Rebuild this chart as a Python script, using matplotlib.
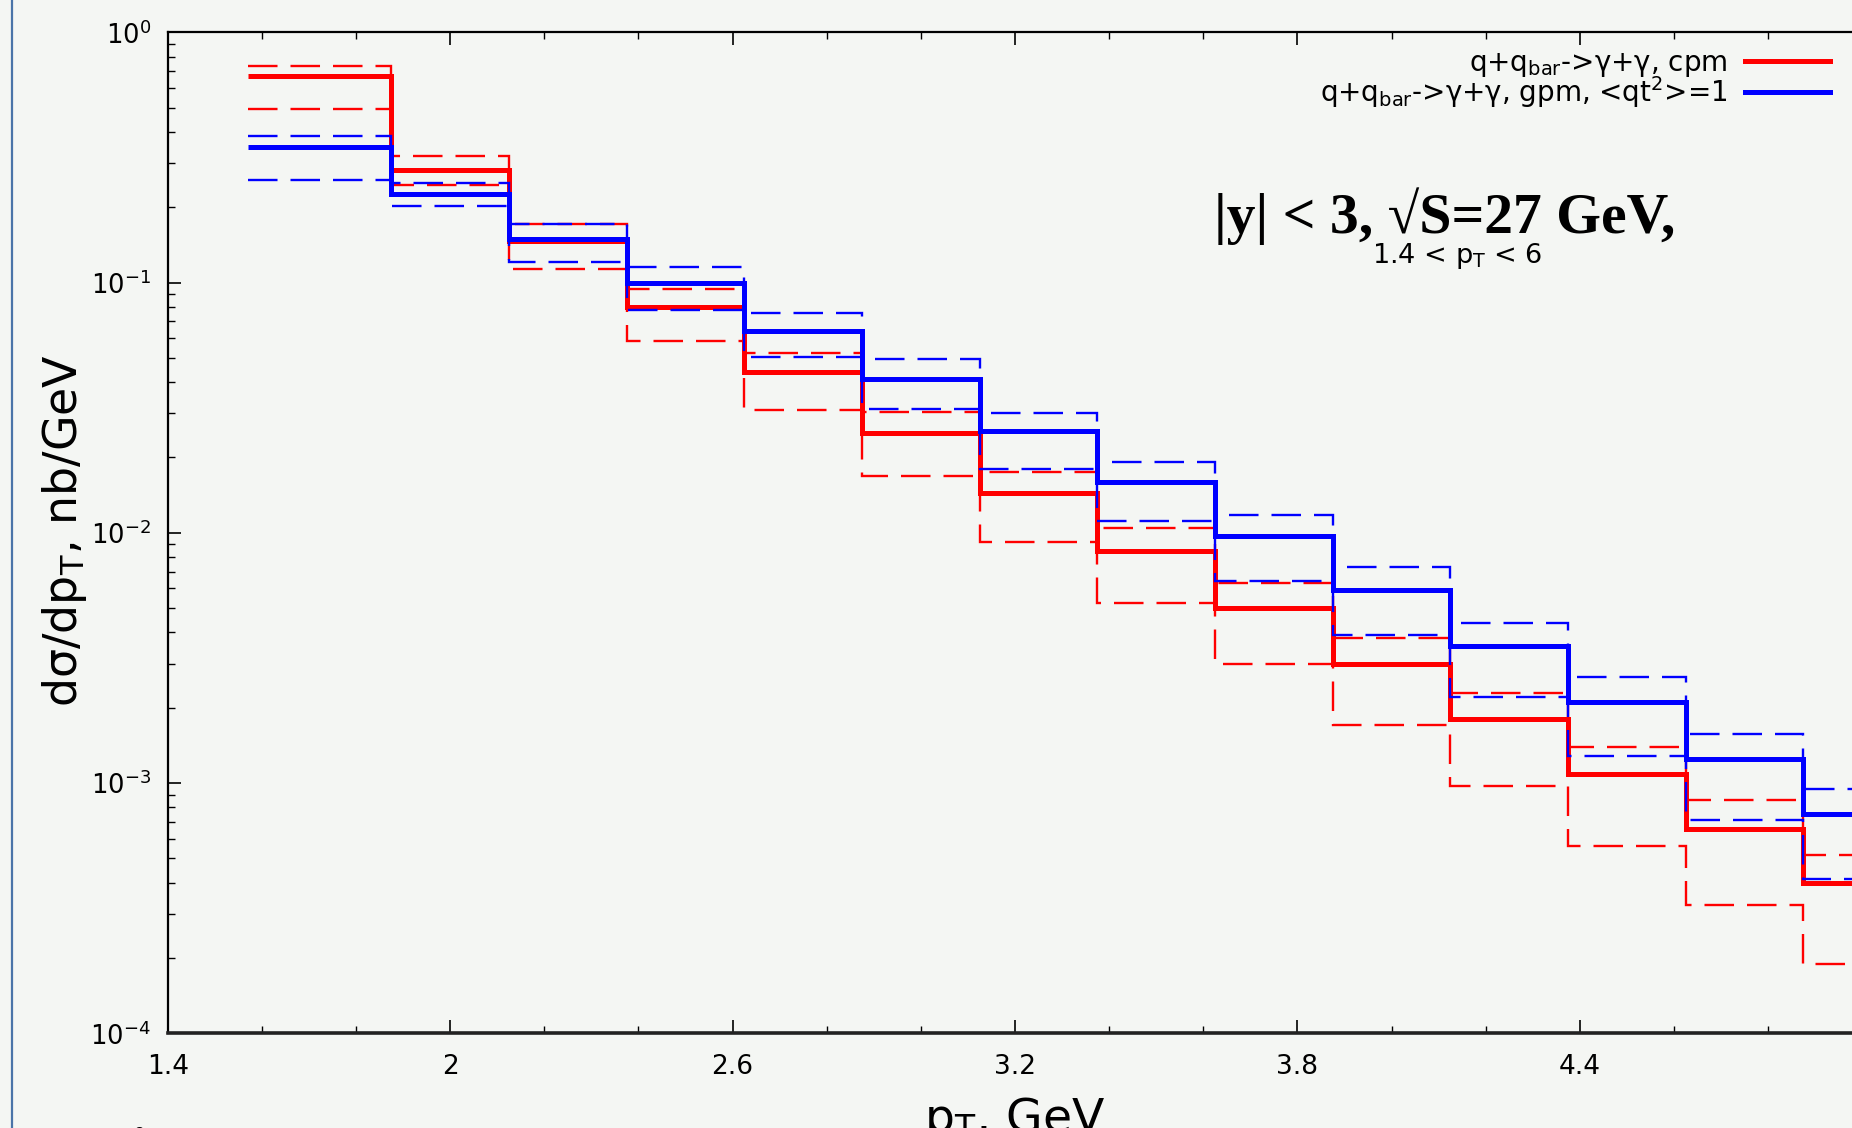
import matplotlib
matplotlib.use("Agg")
import matplotlib.pyplot as plt
from matplotlib.lines import Line2D
import numpy as np

# bin edges in pT (GeV)
edges = [1.57, 1.875, 2.125, 2.375, 2.625, 2.875, 3.125, 3.375, 3.625,
         3.875, 4.125, 4.375, 4.625, 4.875, 5.125]

# cpm (red)
cpm = [0.669, 0.2825, 0.147, 0.0796, 0.0439, 0.0250, 0.01438, 0.00844,
       0.00499, 0.00299, 0.00180, 0.001087, 0.000655, 0.000399]
cpm_up = [0.733, 0.321, 0.1714, 0.094, 0.0524, 0.0305, 0.0175, 0.01048,
          0.00628, 0.00381, 0.0023, 0.001393, 0.000853, 0.000516]
cpm_low = [0.494, 0.245, 0.1129, 0.0584, 0.031, 0.0169, 0.00916, 0.00526,
           0.00299, 0.0017, 0.000973, 0.000562, 0.000325, 0.000189]

# gpm, <qt^2>=1 (blue)
gpm = [0.349, 0.2253, 0.149, 0.0993, 0.0642, 0.0413, 0.0256, 0.0160,
       0.00974, 0.00591, 0.00354, 0.00211, 0.001251, 0.00075]
gpm_up = [0.385, 0.2506, 0.1714, 0.115, 0.0758, 0.0493, 0.0302, 0.01924,
          0.01178, 0.00732, 0.00437, 0.002645, 0.00157, 0.00095]
gpm_low = [0.257, 0.2022, 0.1212, 0.0777, 0.0503, 0.0311, 0.01793, 0.01115,
           0.00642, 0.0039, 0.00221, 0.001279, 0.000712, 0.000412]

xticks = [1.4, 2.0, 2.6, 3.2, 3.8, 4.4, 5.0]
xtick_labels = ['1.4', '2', '2.6', '3.2', '3.8', '4.4', '']
labels = [r'q+q$_{\rm bar}$->γ+γ, cpm',
          r'q+q$_{\rm bar}$->γ+γ, gpm, <qt$^2$>=1']

W, H = 1852, 1128
bg = '#f4f6f3'
plt.rcParams['font.family'] = ['DejaVu Sans']

fig = plt.figure(figsize=(W / 100, H / 100), dpi=100, facecolor=bg)
# axes run past the right edge of the picture (cropped screenshot)
left, top, bottom = 167.7 / W, 1 - 32.3 / H, 1 - 1033.3 / H
ax = fig.add_axes([left, bottom, 3.6 * 470.7 / W, top - bottom])
ax.set_facecolor(bg)

thick = 3.6
thin = 1.7
dash = (12.5, 5.5)

ax.stairs(cpm_up, edges, color='red', lw=thin, linestyle=(0, dash), baseline=None)
ax.stairs(cpm_low, edges, color='red', lw=thin, linestyle=(0, dash), baseline=None)
ax.stairs(cpm, edges, color='red', lw=thick, baseline=None)
ax.stairs(gpm_up, edges, color='blue', lw=thin, linestyle=(0, dash), baseline=None)
ax.stairs(gpm_low, edges, color='blue', lw=thin, linestyle=(0, dash), baseline=None)
ax.stairs(gpm, edges, color='blue', lw=thick, baseline=None)

ax.set_yscale('log')
ax.set_ylim(1e-4, 1)
ax.set_xlim(1.4, 5.0)

ax.set_xticks(xticks)
ax.set_xticklabels(xtick_labels)
ax.set_xticks(np.arange(1.4, 5.01, 0.2), minor=True)

ax.tick_params(which='both', direction='in', top=True, right=False, colors='black')
ax.tick_params(which='major', length=9.5, width=1.2, labelsize=19)
ax.tick_params(which='minor', length=5, width=1.0)
ax.tick_params(axis='x', pad=15)
ax.tick_params(axis='y', pad=12, labelsize=18.5)

for s in ['left', 'top']:
    ax.spines[s].set_linewidth(1.6)
ax.spines['bottom'].set_linewidth(2.6)
ax.spines['bottom'].set_color('#222222')
ax.spines['right'].set_visible(False)

# legend, gnuplot style: text right aligned, sample line after it
for i, (lab, col) in enumerate(zip(labels, ['red', 'blue'])):
    y_line = 61 + 30.7 * i
    y_text = 71 + 31 * i
    fig.text(1727 / W, 1 - y_text / H, lab, fontsize=20, ha='right', va='baseline')
    fig.add_artist(Line2D([1745 / W, 1830 / W], [1 - y_line / H] * 2,
                          transform=fig.transFigure, color=col, lw=3.6))

fig.text(1214 / W, 1 - 233 / H, '|y| < 3, √S=27 GeV,', fontsize=41.5, fontweight='bold',
         family=['Liberation Serif', 'DejaVu Serif'], ha='left', va='baseline')
fig.text(1372 / W, 1 - 263 / H, r'1.4 < p$_{\rm T}$ < 6', fontsize=19.5,
         ha='left', va='baseline')

fig.text(65 / W, 1 - 531 / H, r'dσ/dp$_{\rm T}$, nb/GeV', fontsize=33, rotation=90,
         ha='center', va='center')
fig.text(1015 / W, 1 - 1132 / H, r'p$_{\rm T}$, GeV', fontsize=34, ha='center', va='baseline')
# top of a label cut by the bottom edge
fig.text(139 / W, 1 - 1143 / H, '0', fontsize=15, ha='center', va='baseline')

# window border on the left of the screenshot
fig.add_artist(Line2D([12 / W, 12 / W], [0, 1], transform=fig.transFigure,
                      color='#4a74a8', lw=1.6))

fig.savefig('out.png', dpi=100, facecolor=bg)
